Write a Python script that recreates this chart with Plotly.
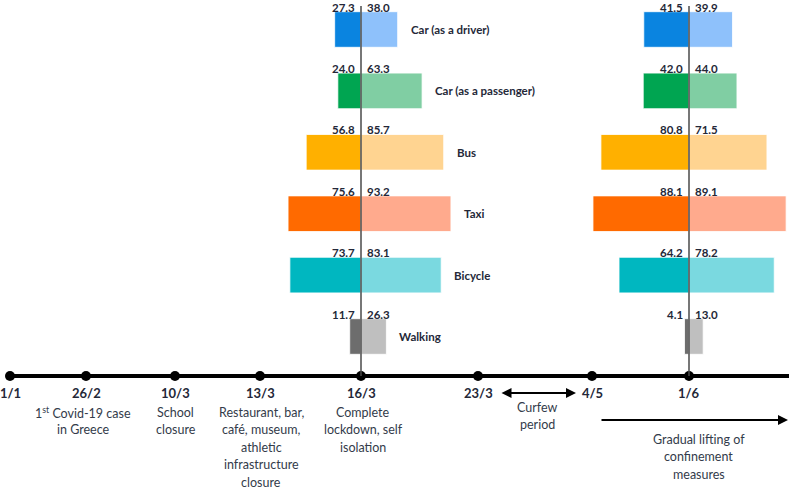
import plotly.graph_objects as go

# ---------------- data ----------------
modes = ["Car (as a driver)", "Car (as a passenger)", "Bus", "Taxi", "Bicycle", "Walking"]
dates = ["1/1", "26/2", "10/3", "13/3", "16/3", "23/3", "4/5", "1/6"]

lockdown_left = [27.3, 24.0, 56.8, 75.6, 73.7, 11.7]    # 16/3
lockdown_right = [38.0, 63.3, 85.7, 93.2, 83.1, 26.3]
lifting_left = [41.5, 42.0, 80.8, 88.1, 64.2, 4.1]      # 1/6
lifting_right = [39.9, 44.0, 71.5, 89.1, 78.2, 13.0]

event_texts = [
    "",
    "1<sup>st</sup> Covid-19 case<br>in Greece",
    "School<br>closure",
    "Restaurant, bar,<br>café, museum,<br>athletic<br>infrastructure<br>closure",
    "Complete<br>lockdown, self<br>isolation",
]
curfew_text = "Curfew<br>period"
lifting_text = "Gradual lifting of<br>confinement<br>measures"

# ---------------- layout constants ----------------
W, H = 789, 490
event_x = [10, 86, 175, 260, 361, 478, 592, 689]   # schematic timeline positions
desc_x = [0, 83, 175.5, 261, 363]
TL_Y = 376
ROW0, ROW_STEP = 29.5, 61.4

left_colors = ["#0A84E0", "#00A551", "#FFB000", "#FF6A00", "#00B7C0", "#6D6D6D"]
right_colors = ["#8EC1FB", "#80CEA3", "#FFD491", "#FFAA8D", "#7AD9E0", "#BFBFBF"]
FONT = "Lato, Carlito, Calibri, sans-serif"
TXT = "#242838"
DESC = "#333B4A"

fig = go.Figure()

# timeline
fig.add_trace(go.Scatter(x=[event_x[0], W], y=[TL_Y, TL_Y], mode="lines",
                         line=dict(color="black", width=4), xaxis="x", yaxis="y",
                         hoverinfo="skip", showlegend=False))
fig.add_trace(go.Scatter(x=event_x, y=[TL_Y] * len(event_x), mode="markers",
                         marker=dict(color="black", size=10), xaxis="x", yaxis="y",
                         hoverinfo="skip", showlegend=False))

groups = [
    (lockdown_left, lockdown_right, "x2", event_x[4], 0.965, (-80, 100), True),
    (lifting_left, lifting_right, "x3", event_x[7], 1.09, (-90, 91), False),
]

annotations = []
shapes = []
axes = {}
for left, right, xa, cx, scale, (lo, hi), with_names in groups:
    fig.add_trace(go.Bar(y=modes, x=[-v for v in left], orientation="h", width=0.58,
                         marker=dict(color=left_colors, line=dict(color="white", width=0.8)),
                         xaxis=xa, yaxis="y2", showlegend=False, hoverinfo="skip"))
    fig.add_trace(go.Bar(y=modes, x=right, orientation="h", width=0.58,
                         marker=dict(color=right_colors, line=dict(color="white", width=0.8)),
                         xaxis=xa, yaxis="y2", showlegend=False, hoverinfo="skip"))
    axname = "xaxis" + xa[1:]
    axes[axname] = dict(domain=[(cx + lo * scale) / W, (cx + hi * scale) / W],
                        range=[lo, hi], anchor="y2", visible=False, fixedrange=True)
    shapes.append(dict(type="line", xref=xa, yref="y2", x0=0, x1=0,
                       y0=(6 - ROW0) / ROW_STEP, y1=(TL_Y - ROW0) / ROW_STEP,
                       line=dict(color="#4a4a4a", width=1.5), layer="above"))
    for i, m in enumerate(modes):
        annotations.append(dict(x=0, y=m, xref=xa, yref="y2", text=f"{left[i]:.1f}",
                                showarrow=False, xanchor="right", yanchor="bottom",
                                xshift=-5, yshift=15, borderpad=0,
                                font=dict(family=FONT, size=11.5, color=TXT, weight="bold")))
        annotations.append(dict(x=0, y=m, xref=xa, yref="y2", text=f"{right[i]:.1f}",
                                showarrow=False, xanchor="left", yanchor="bottom",
                                xshift=5, yshift=15, borderpad=0,
                                font=dict(family=FONT, size=11.5, color=TXT, weight="bold")))
        if with_names:
            annotations.append(dict(x=right[i], y=m, xref=xa, yref="y2", text=m,
                                    showarrow=False, xanchor="left", yanchor="middle",
                                    xshift=11,
                                    font=dict(family=FONT, size=11.5, color=TXT, weight="bold")))

# date labels
for k, d in enumerate(dates):
    annotations.append(dict(x=event_x[k], y=393, xref="x", yref="y", text=d, showarrow=False,
                            xanchor="center", yanchor="middle",
                            font=dict(family=FONT, size=13, color=TXT, weight="bold")))


def add_lines(text, x, y0, step=17.5):
    for j, line in enumerate(text.split("<br>")):
        annotations.append(dict(x=x, y=y0 + j * step, xref="x", yref="y", text=line,
                                showarrow=False, xanchor="center", yanchor="middle",
                                borderpad=0,
                                font=dict(family=FONT, size=12.5, color=DESC)))


for k, t in enumerate(event_texts):
    if t:
        add_lines(t, desc_x[k], 412)
add_lines(curfew_text, 537, 407, 17)
add_lines(lifting_text, 698.5, 439)

# arrows
annotations.append(dict(x=576, y=393, ax=500, ay=393, xref="x", yref="y", axref="x", ayref="y",
                        text="", showarrow=True, arrowhead=2, arrowside="end+start",
                        arrowsize=1, arrowwidth=2, arrowcolor="black"))
annotations.append(dict(x=788, y=420, ax=600, ay=420, xref="x", yref="y", axref="x", ayref="y",
                        text="", showarrow=True, arrowhead=2, arrowsize=1, arrowwidth=2,
                        arrowcolor="black"))

fig.update_layout(
    width=W, height=H, margin=dict(l=0, r=0, t=0, b=0),
    paper_bgcolor="white", plot_bgcolor="rgba(0,0,0,0)",
    barmode="overlay", showlegend=False,
    xaxis=dict(domain=[0, 1], range=[0, W], visible=False, fixedrange=True),
    yaxis=dict(domain=[0, 1], range=[H, 0], visible=False, fixedrange=True),
    yaxis2=dict(domain=[1 - TL_Y / H, 1], type="category", categoryarray=modes,
                categoryorder="array",
                range=[(TL_Y - ROW0) / ROW_STEP, (0 - ROW0) / ROW_STEP],
                anchor="x2", visible=False, fixedrange=True),
    annotations=annotations, shapes=shapes,
    **axes,
)

fig.write_html("out.html", config={"displayModeBar": False},
               post_script="document.body.style.margin='0';document.body.style.overflow='hidden';")
